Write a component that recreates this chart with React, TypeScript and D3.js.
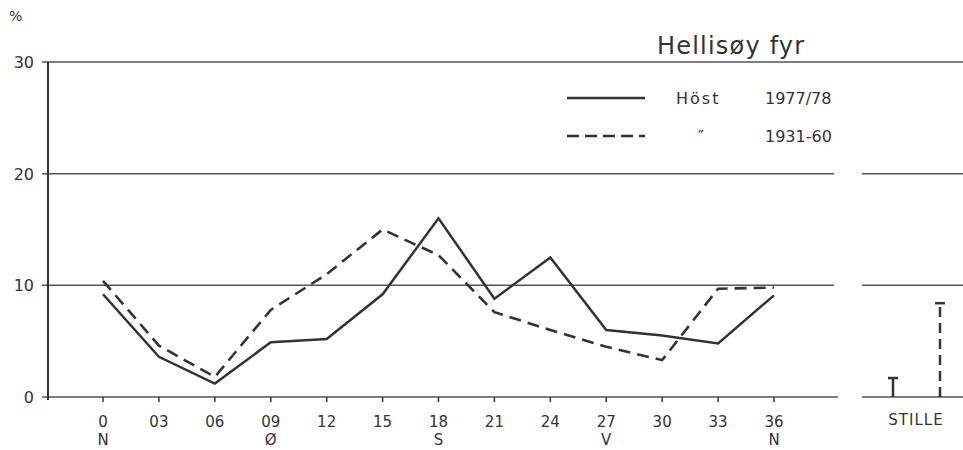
import React from "react";
import * as d3 from "d3";

const categories = ["0", "03", "06", "09", "12", "15", "18", "21", "24", "27", "30", "33", "36"];
const compass = ["N", "", "", "Ø", "", "", "S", "", "", "V", "", "", "N"];
const host1977: number[] = [9.2, 3.6, 1.2, 4.9, 5.2, 9.2, 16.0, 8.8, 12.5, 6.0, 5.5, 4.8, 9.1];
const host1931: number[] = [10.4, 4.6, 1.8, 7.8, 11.0, 15.0, 12.7, 7.6, 6.0, 4.5, 3.3, 9.7, 9.8];
const stilleKeys = ["1977/78", "1931-60"];
const stilleValues = [1.7, 8.4];
const yTicks = [0, 10, 20, 30];

const W = 963, H = 450;
const FONT = "'DejaVu Sans', 'Liberation Sans', sans-serif";
const INK = "#333";

export default function App() {
  const x = d3.scalePoint<string>().domain(categories).range([103, 774]);
  const y = d3.scaleLinear().domain([0, 30]).range([397, 62]);
  const xs = d3.scalePoint<string>().domain(stilleKeys).range([893, 940]);

  const line = d3
    .line<number>()
    .x((_, i) => x(categories[i]) as number)
    .y((d) => y(d));

  const mainRight = 838;
  const stLeft = 862;

  return (
    <svg
      width={W}
      height={H}
      style={{ position: "absolute", left: 0, top: 0, background: "#fff" }}
      fontFamily={FONT}
    >
      <rect width={W} height={H} fill="#fff" />
      {/* % label */}
      <text x={9} y={21} fontSize={14} fill={INK}>%</text>

      {/* gridlines */}
      {yTicks.map((t) =>
        t === 30 ? (
          <line key={t} x1={42} x2={W} y1={y(t)} y2={y(t)} stroke="#555" strokeWidth={1.5} />
        ) : (
          <g key={t}>
            <line x1={42} x2={t === 0 ? mainRight : 834} y1={y(t)} y2={y(t)} stroke="#555" strokeWidth={1.5} />
            <line x1={stLeft} x2={W} y1={y(t)} y2={y(t)} stroke="#555" strokeWidth={1.5} />
          </g>
        )
      )}
      {/* y axis */}
      <line x1={48} x2={48} y1={y(30)} y2={y(0) + 3} stroke={INK} strokeWidth={2} />
      {yTicks.map((t) => (
        <text key={t} x={34} y={y(t) + 6} fontSize={16} textAnchor="end" fill={INK}>
          {t}
        </text>
      ))}

      {/* x ticks */}
      {categories.map((c, i) => (
        <g key={c}>
          <line x1={x(c)} x2={x(c)} y1={y(0)} y2={y(0) + 5} stroke={INK} strokeWidth={1.5} />
          <text x={x(c)} y={427} fontSize={15} textAnchor="middle" fill={INK}>{c}</text>
          {compass[i] && (
            <text x={x(c)} y={445} fontSize={15} textAnchor="middle" fill={INK}>{compass[i]}</text>
          )}
        </g>
      ))}

      {/* series */}
      <path d={line(host1931) || ""} fill="none" stroke={INK} strokeWidth={2.6} strokeDasharray="12 7" />
      <path d={line(host1977) || ""} fill="none" stroke={INK} strokeWidth={2.5} strokeLinejoin="miter" />

      {/* stille panel */}
      {stilleKeys.map((k, i) => {
        const cx = xs(k) as number;
        const dashed = i === 1;
        return (
          <g key={k}>
            <line
              x1={cx}
              x2={cx}
              y1={y(0)}
              y2={y(stilleValues[i])}
              stroke={INK}
              strokeWidth={2.5}
              strokeDasharray={dashed ? "10 6" : undefined}
            />
            <line x1={cx - 5} x2={cx + 5} y1={y(stilleValues[i])} y2={y(stilleValues[i])} stroke={INK} strokeWidth={2.5} />
          </g>
        );
      })}
      <text x={916} y={425} fontSize={15} textAnchor="middle" fill={INK} letterSpacing={1}>STILLE</text>

      {/* title */}
      <text x={657} y={54} fontSize={24} fill={INK} letterSpacing={1.2}>Hellisøy fyr</text>

      {/* legend */}
      <line x1={567} x2={645} y1={98} y2={98} stroke={INK} strokeWidth={2.5} />
      <text x={676} y={104} fontSize={16} fill={INK} letterSpacing={2}>Höst</text>
      <text x={765} y={104} fontSize={16} fill={INK}>1977/78</text>
      <line x1={567} x2={645} y1={136} y2={136} stroke={INK} strokeWidth={2.5} strokeDasharray="12 6" />
      <text x={698} y={142} fontSize={16} fill={INK}>″</text>
      <text x={765} y={142} fontSize={16} fill={INK}>1931-60</text>
    </svg>
  );
}
